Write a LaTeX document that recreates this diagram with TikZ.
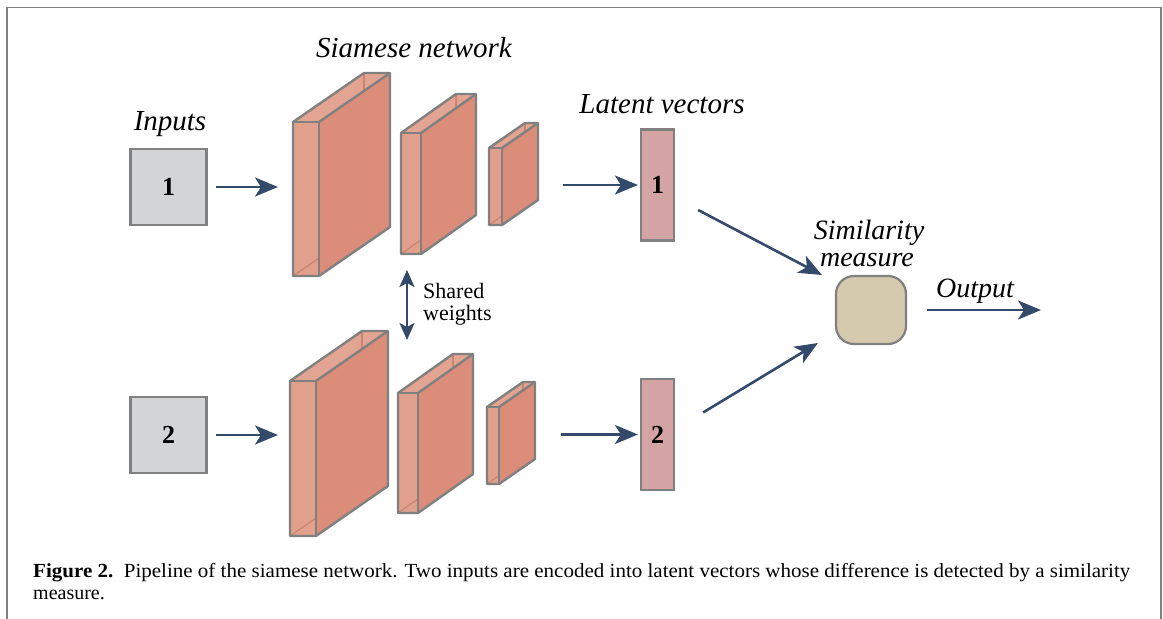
\documentclass[tikz,border=0pt]{standalone}
\usepackage{fontspec}
\setmainfont{Liberation Serif}
\usetikzlibrary{arrows.meta}
\definecolor{arrowc}{HTML}{334A6B}
\definecolor{edgec}{HTML}{808080}
\definecolor{sidec}{HTML}{DB8D7A}
\definecolor{frontc}{HTML}{E1A08C}
\definecolor{topc}{HTML}{E3A591}
\definecolor{hidc}{HTML}{C98472}
\definecolor{inputc}{HTML}{D3D4D6}
\definecolor{latc}{HTML}{D4A3A3}
\definecolor{simc}{HTML}{D5CAAE}
\definecolor{framec}{HTML}{808080}
\tikzset{
  conn/.style={draw=arrowc, line width=2.6pt, -{Stealth[length=23pt,width=19pt,inset=6pt]}},
  dconn/.style={draw=arrowc, line width=2.6pt, {Stealth[length=17pt,width=15pt,inset=4pt]}-{Stealth[length=17pt,width=15pt,inset=4pt]}},
  inbox/.style={draw=edgec, line width=2.2pt, fill=inputc, minimum width=76pt, minimum height=76pt, inner sep=0pt, font=\fontsize{26}{28}\selectfont\bfseries},
  latbox/.style={draw=edgec, line width=2.2pt, fill=latc, minimum width=33pt, minimum height=111pt, inner sep=0pt, font=\fontsize{26}{28}\selectfont\bfseries},
  simbox/.style={draw=edgec, line width=2.2pt, fill=simc, minimum width=70pt, minimum height=68pt, rounded corners=18pt, inner sep=0pt},
  ititle/.style={font=\fontsize{29}{31}\selectfont\itshape, inner sep=0pt},
  facestyle/.style={draw=edgec, line width=2.4pt, line join=round},
}
\newcommand{\convblock}[6]{%
  % #1,#2 front top-left; #3 width; #4 height; #5 dx; #6 dy
  \fill[topc] (#1,#2) -- (#1+#5,#2+#6) -- (#1+#3+#5,#2+#6) -- (#1+#3,#2) -- cycle;
  \fill[frontc] (#1,#2) rectangle (#1+#3,#2+#4);
  \fill[sidec] (#1+#3,#2) -- (#1+#3+#5,#2+#6) -- (#1+#3+#5,#2+#4+#6) -- (#1+#3,#2+#4) -- cycle;
  \draw[hidc, line width=1.2pt] (#1+#5,#2+#6) -- (#1+#5,{#2+#6*(#5-#3)/#5});
  \draw[hidc, line width=1.2pt] (#1,#2+#4) -- (#1+#3,{#2+#4+#6*#3/#5});
  \draw[facestyle] (#1,#2) -- (#1+#5,#2+#6) -- (#1+#3+#5,#2+#6) -- (#1+#3+#5,#2+#4+#6) -- (#1+#3,#2+#4) -- (#1,#2+#4) -- cycle;
  \draw[facestyle] (#1,#2) -- (#1+#3,#2) -- (#1+#3,#2+#4);
  \draw[facestyle] (#1+#3,#2) -- (#1+#3+#5,#2+#6);
}
\begin{document}
\begin{tikzpicture}[x=1pt,y=-1pt]
\useasboundingbox (0,0) rectangle (1163,619);
% frame
\draw[framec, line width=1.2pt] (7,7.5) -- (1160,7.5);
\draw[framec, line width=2pt] (7,7) -- (7,619);
\draw[framec, line width=2pt] (1160.5,7) -- (1160.5,619);

% titles
\node[ititle, anchor=base] (tin) at (170,130) {Inputs};
\node[ititle, anchor=base] (tsn) at (414,57) {Siamese network};
\node[ititle, anchor=base] (tlv) at (662,113) {Latent vectors};

% inputs
\node[inbox] (in1) at (168.5,187) {1};
\node[inbox] (in2) at (168.5,435) {2};

% conv blocks top
\convblock{293}{122}{26}{154}{71}{-49}
\convblock{401}{133}{20}{121}{55}{-39}
\convblock{489}{148}{13}{77}{36}{-25}
% conv blocks bottom
\convblock{290}{381}{26}{155}{72}{-50}
\convblock{398}{393}{20}{120}{55}{-39}
\convblock{487}{407}{12}{77}{36}{-25}

\coordinate (b1a) at (278,187);
\coordinate (b2a) at (278,435);
\coordinate (b1e) at (563,185);
\coordinate (b2e) at (561,434.5);

% latent vectors
\node[latbox] (l1) at (657.5,185) {1};
\node[latbox] (l2) at (657.5,434.5) {2};

% similarity
\node[simbox] (sim) at (871,310) {};
\node[font=\fontsize{28}{30}\selectfont\itshape, inner sep=0pt, anchor=base] (tsim) at (869,239) {Similarity};
\node[font=\fontsize{28}{30}\selectfont\itshape, inner sep=0pt, anchor=base] (tmeas) at (867,266) {measure};
\node[font=\fontsize{28}{30}\selectfont\itshape, inner sep=0pt, anchor=base] (tout) at (975,297) {Output};
\coordinate (outend) at (1041,310);

% shared weights
\coordinate (swt) at (407,270);
\coordinate (swb) at (407,340);
\node[font=\fontsize{22}{23}\selectfont, align=left, anchor=west, inner sep=0pt] (sw) at (423,304) {Shared\\[-1pt]weights};

% connectors
\draw[conn] (in1.east) ++(8,0) coordinate (a1s) -- (b1a);
\draw[conn] (in2.east) ++(8,0) coordinate (a2s) -- (b2a);
\draw[conn] (b1e) -- ([xshift=-2pt]l1.west);
\draw[conn] (b2e) -- ([xshift=-2pt]l2.west);
\draw[conn] ([shift={(23,25)}]l1.east) coordinate (s1) -- ([shift={(-13,-35)}]sim.west);
\draw[conn] ([shift={(28,-22)}]l2.east) coordinate (s2) -- ([shift={(-17,33)}]sim.west);
\draw[conn] ([xshift=20pt]sim.east) -- (outend);
\draw[dconn] (swt) -- (swb);

% caption
\node[anchor=base west, inner sep=0pt] (cap1) at (33,577) {\resizebox{1097pt}{\height}{\fontsize{20}{23}\selectfont\textbf{Figure 2.}\enspace Pipeline of the siamese network. Two inputs are encoded into latent vectors whose difference is detected by a similarity}};
\node[anchor=base west, inner sep=0pt, font=\fontsize{20}{23}\selectfont] (cap2) at (33,599) {measure.};
\end{tikzpicture}
\end{document}
